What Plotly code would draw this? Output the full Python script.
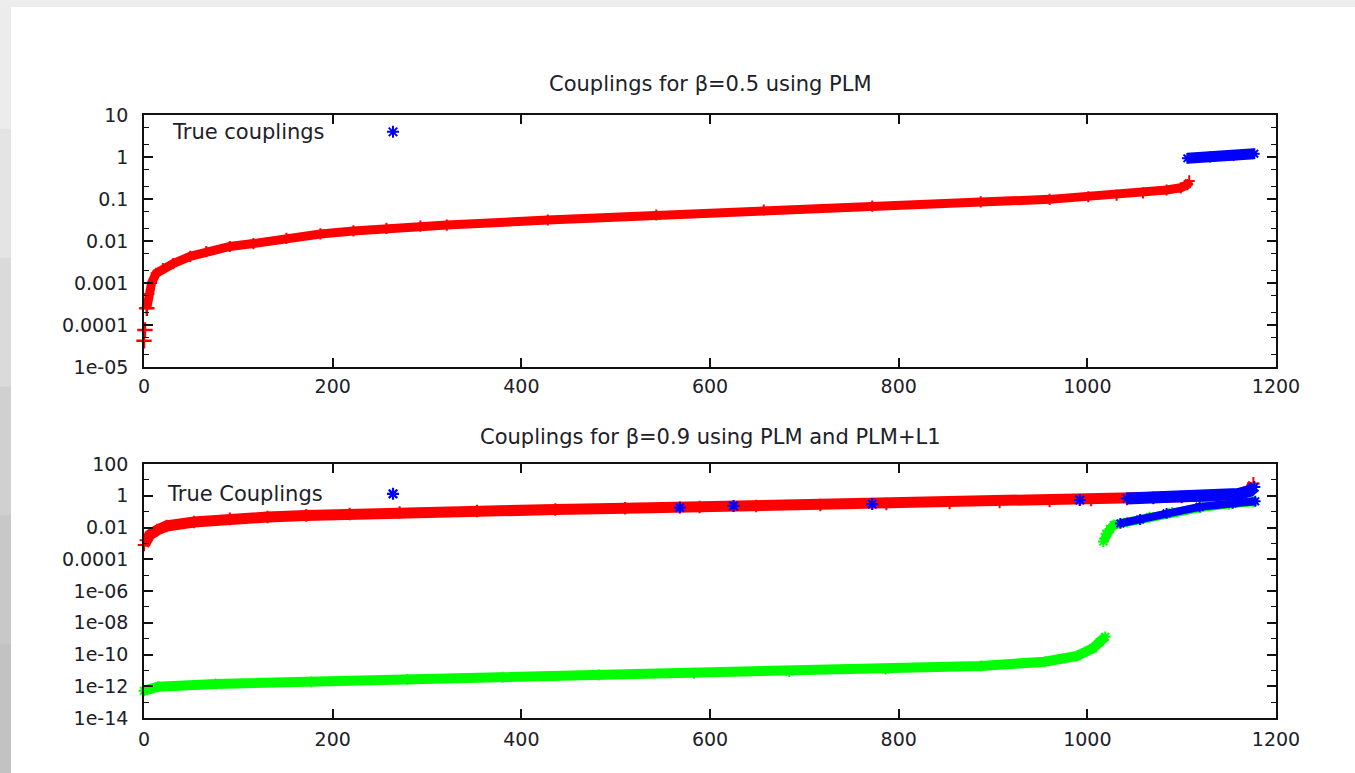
import plotly.graph_objects as go

# ---------------- data ----------------
# Top panel: beta = 0.5, PLM
top_plm_x = [0, 1, 3, 5, 8, 13, 20, 31, 49, 66, 91, 116, 151, 187, 222, 257, 293, 321,
             428, 543, 657, 772, 887, 960, 1001, 1031, 1059, 1084, 1099, 1106, 1108]
top_plm_y = [4.2e-5, 7.6e-5, 2.5e-4, 5.5e-4, 1.0e-3, 1.7e-3, 2.2e-3, 2.9e-3, 4.3e-3, 5.6e-3,
             7.4e-3, 8.7e-3, 1.15e-2, 1.47e-2, 1.74e-2, 2.0e-2, 2.25e-2, 2.4e-2,
             0.0316, 0.0416, 0.0547, 0.068, 0.085, 0.098, 0.113, 0.124, 0.14, 0.164, 0.185, 0.22, 0.27]
top_true_x = [1106, 1130, 1155, 1177]
top_true_y = [0.93, 1.0, 1.08, 1.2]

# Bottom panel: beta = 0.9, PLM (red) and PLM+L1 (green)
bot_plm_x = [0, 2, 6, 14, 24, 53, 91, 131, 172, 218, 271, 353, 436, 510, 589, 649, 717, 787,
             854, 907, 960, 1004, 1042, 1070, 1100, 1137, 1160, 1172, 1176]
bot_plm_y = [8e-4, 1.6e-3, 3.4e-3, 6.9e-3, 0.0125, 0.022, 0.035, 0.046, 0.058, 0.071, 0.088,
             0.11, 0.136, 0.162, 0.195, 0.227, 0.26, 0.30, 0.35, 0.40, 0.47, 0.54, 0.63,
             0.72, 0.83, 0.97, 1.25, 2.2, 6.0]
bot_l1_main_x = [0, 15, 76, 177, 279, 380, 482, 583, 684, 786, 887, 955, 989, 1006, 1013, 1019]
bot_l1_main_y = [5.2e-13, 9.3e-13, 1.4e-12, 1.9e-12, 2.7e-12, 3.7e-12, 5.1e-12, 6.6e-12,
                 8.4e-12, 1.2e-11, 1.9e-11, 3.5e-11, 8e-11, 2.5e-10, 6e-10, 1.3e-9]
bot_l1_high_x = [1017, 1020, 1024, 1028, 1042, 1066, 1090, 1120, 1150, 1176]
bot_l1_high_y = [1.3e-3, 4e-3, 8e-3, 0.0145, 0.022, 0.045, 0.09, 0.18, 0.3, 0.42]
bot_true_single_x = [568, 625, 772, 992]
bot_true_single_y = [0.18, 0.23, 0.30, 0.54]
bot_true_upper_x = [1042, 1070, 1100, 1137, 1160, 1172, 1177]
bot_true_upper_y = [0.66, 0.76, 0.87, 1.0, 1.3, 2.0, 3.5]
bot_true_lower_x = [1035, 1056, 1084, 1119, 1154, 1178]
bot_true_lower_y = [0.018, 0.032, 0.078, 0.2, 0.33, 0.45]

x_ticks = [0, 200, 400, 600, 800, 1000, 1200]
top_ytick_vals = [1e-5, 1e-4, 1e-3, 1e-2, 1e-1, 1, 10]
top_ytick_text = ["1e-05", "0.0001", "0.001", "0.01", "0.1", "1", "10"]
top_yminor_vals = [m * 10.0 ** e for e in range(-5, 1) for m in (2, 5)]
bot_ytick_vals = [1e-14, 1e-12, 1e-10, 1e-8, 1e-6, 1e-4, 1e-2, 1, 100]
bot_ytick_text = ["1e-14", "1e-12", "1e-10", "1e-08", "1e-06", "0.0001", "0.01", "1", "100"]
bot_yminor_vals = [10.0 ** e for e in range(-13, 2, 2)]

title_top = "Couplings for β=0.5 using PLM"
title_bot = "Couplings for β=0.9 using PLM and PLM+L1"
legend_top = "True couplings"
legend_bot = "True Couplings"

RED, GREEN, BLUE = "#ff0000", "#00ff00", "#0000ff"
TICKFONT = dict(family="DejaVu Sans", size=19, color="#202028")
TEXTFONT = dict(family="DejaVu Sans", size=21, color="#202028")

fig = go.Figure()

def band(x, y, color, width, xa, ya, sym, msize, mw=2.0):
    fig.add_trace(go.Scatter(x=x, y=y, mode="lines+markers", xaxis=xa, yaxis=ya,
                             line=dict(color=color, width=width),
                             marker=dict(symbol=sym, size=msize, color=color,
                                         line=dict(color=color, width=mw)),
                             cliponaxis=False, showlegend=False))

# top panel
fig.add_trace(go.Scatter(x=top_plm_x[:3], y=top_plm_y[:3], mode="markers", xaxis="x", yaxis="y",
                         marker=dict(symbol="cross-thin-open", size=11, color=RED,
                                     line=dict(color=RED, width=2.5)),
                         cliponaxis=False, showlegend=False))
band(top_plm_x[2:], top_plm_y[2:], RED, 9, "x", "y", "cross-thin-open", 8)
band(top_true_x, top_true_y, BLUE, 11, "x", "y", "asterisk-open", 9)
fig.add_trace(go.Scatter(x=[None], y=[None], mode="markers", xaxis="x", yaxis="y",
                         marker=dict(symbol="asterisk-open", size=10, color=BLUE,
                                     line=dict(color=BLUE, width=2)),
                         showlegend=True, name="", legend="legend"))

# bottom panel
band(bot_plm_x, bot_plm_y, RED, 11, "x2", "y2", "cross-thin-open", 9)
band(bot_l1_main_x, bot_l1_main_y, GREEN, 10, "x2", "y2", "asterisk-open", 9)
band(bot_l1_high_x, bot_l1_high_y, GREEN, 9, "x2", "y2", "asterisk-open", 9)
band(bot_true_upper_x, bot_true_upper_y, BLUE, 12, "x2", "y2", "asterisk-open", 10)
band(bot_true_lower_x, bot_true_lower_y, BLUE, 8, "x2", "y2", "asterisk-open", 9)
fig.add_trace(go.Scatter(x=bot_true_single_x, y=bot_true_single_y, mode="markers",
                         xaxis="x2", yaxis="y2",
                         marker=dict(symbol="asterisk-open", size=10, color=BLUE,
                                     line=dict(color=BLUE, width=2.2)),
                         showlegend=True, name="", legend="legend2"))

axis_common = dict(showline=True, linecolor="#111111", linewidth=1.6, mirror="ticks",
                   ticks="inside", tickcolor="#111111", tickwidth=1.6, ticklen=9,
                   showgrid=False, zeroline=False, tickfont=TICKFONT)

ML, MR, MT, MB = 144, 79, 115, 55
PH = 773 - MT - MB  # 603

def py(px):
    return (773 - MB - px) / PH

def pxx(px):
    return (px - ML) / (1355 - ML - MR)

fig.update_layout(
    width=1355, height=773,
    margin=dict(l=ML, r=MR, t=MT, b=MB),
    paper_bgcolor="white", plot_bgcolor="white",
    xaxis=dict(axis_common, range=[0, 1200], tickvals=x_ticks, anchor="y",
               domain=[0, 1], ticklabelstandoff=1),
    yaxis=dict(axis_common, type="log", range=[-5, 1], tickvals=top_ytick_vals,
               ticktext=top_ytick_text, domain=[py(367), 1], anchor="x",
               ticklabelstandoff=10,
               minor=dict(tickvals=top_yminor_vals, ticks="inside", ticklen=5,
                          tickcolor="#111111", tickwidth=1.4)),
    xaxis2=dict(axis_common, range=[0, 1200], tickvals=x_ticks, anchor="y2",
                domain=[0, 1], ticklabelstandoff=3),
    yaxis2=dict(axis_common, type="log", range=[-14, 2], tickvals=bot_ytick_vals,
                ticktext=bot_ytick_text, domain=[0, py(464)], anchor="x2",
                ticklabelstandoff=10,
                minor=dict(tickvals=bot_yminor_vals, ticks="inside", ticklen=5,
                           tickcolor="#111111", tickwidth=1.4)),
    legend=dict(x=pxx(373), y=py(132), xanchor="left", yanchor="middle",
                bgcolor="rgba(0,0,0,0)", font=TICKFONT, itemwidth=30),
    legend2=dict(x=pxx(373), y=py(494), xanchor="left", yanchor="middle",
                 bgcolor="rgba(0,0,0,0)", font=TICKFONT, itemwidth=30),
    annotations=[
        dict(text=title_top, x=0.5, y=py(84), xref="paper", yref="paper",
             showarrow=False, font=TEXTFONT, xanchor="center", yanchor="middle"),
        dict(text=title_bot, x=0.5, y=py(437), xref="paper", yref="paper",
             showarrow=False, font=TEXTFONT, xanchor="center", yanchor="middle"),
        dict(text=legend_top, x=pxx(170), y=py(132), xref="paper", yref="paper",
             showarrow=False, font=TEXTFONT, xanchor="left", yanchor="middle"),
        dict(text=legend_bot, x=pxx(165), y=py(494), xref="paper", yref="paper",
             showarrow=False, font=TEXTFONT, xanchor="left", yanchor="middle"),
    ],
)

# slide frame (grey strips around the white page)
greys = ["#ececec", "#e4e4e4", "#dadada", "#d0d0d0", "#c8c8c8", "#c2c2c2"]
seg = 773 / len(greys)
shapes = []
for i, g in enumerate(greys):
    shapes.append(dict(type="rect", xref="paper", yref="paper", layer="below",
                       x0=pxx(0), x1=pxx(11), y0=py(i * seg), y1=py((i + 1) * seg + 1),
                       fillcolor=g, line=dict(width=0)))
shapes.append(dict(type="rect", xref="paper", yref="paper", layer="below",
                   x0=pxx(0), x1=pxx(1355), y0=py(0), y1=py(7),
                   fillcolor="#ededed", line=dict(width=0)))
fig.update_layout(shapes=shapes)

fig.write_html("out.html")
